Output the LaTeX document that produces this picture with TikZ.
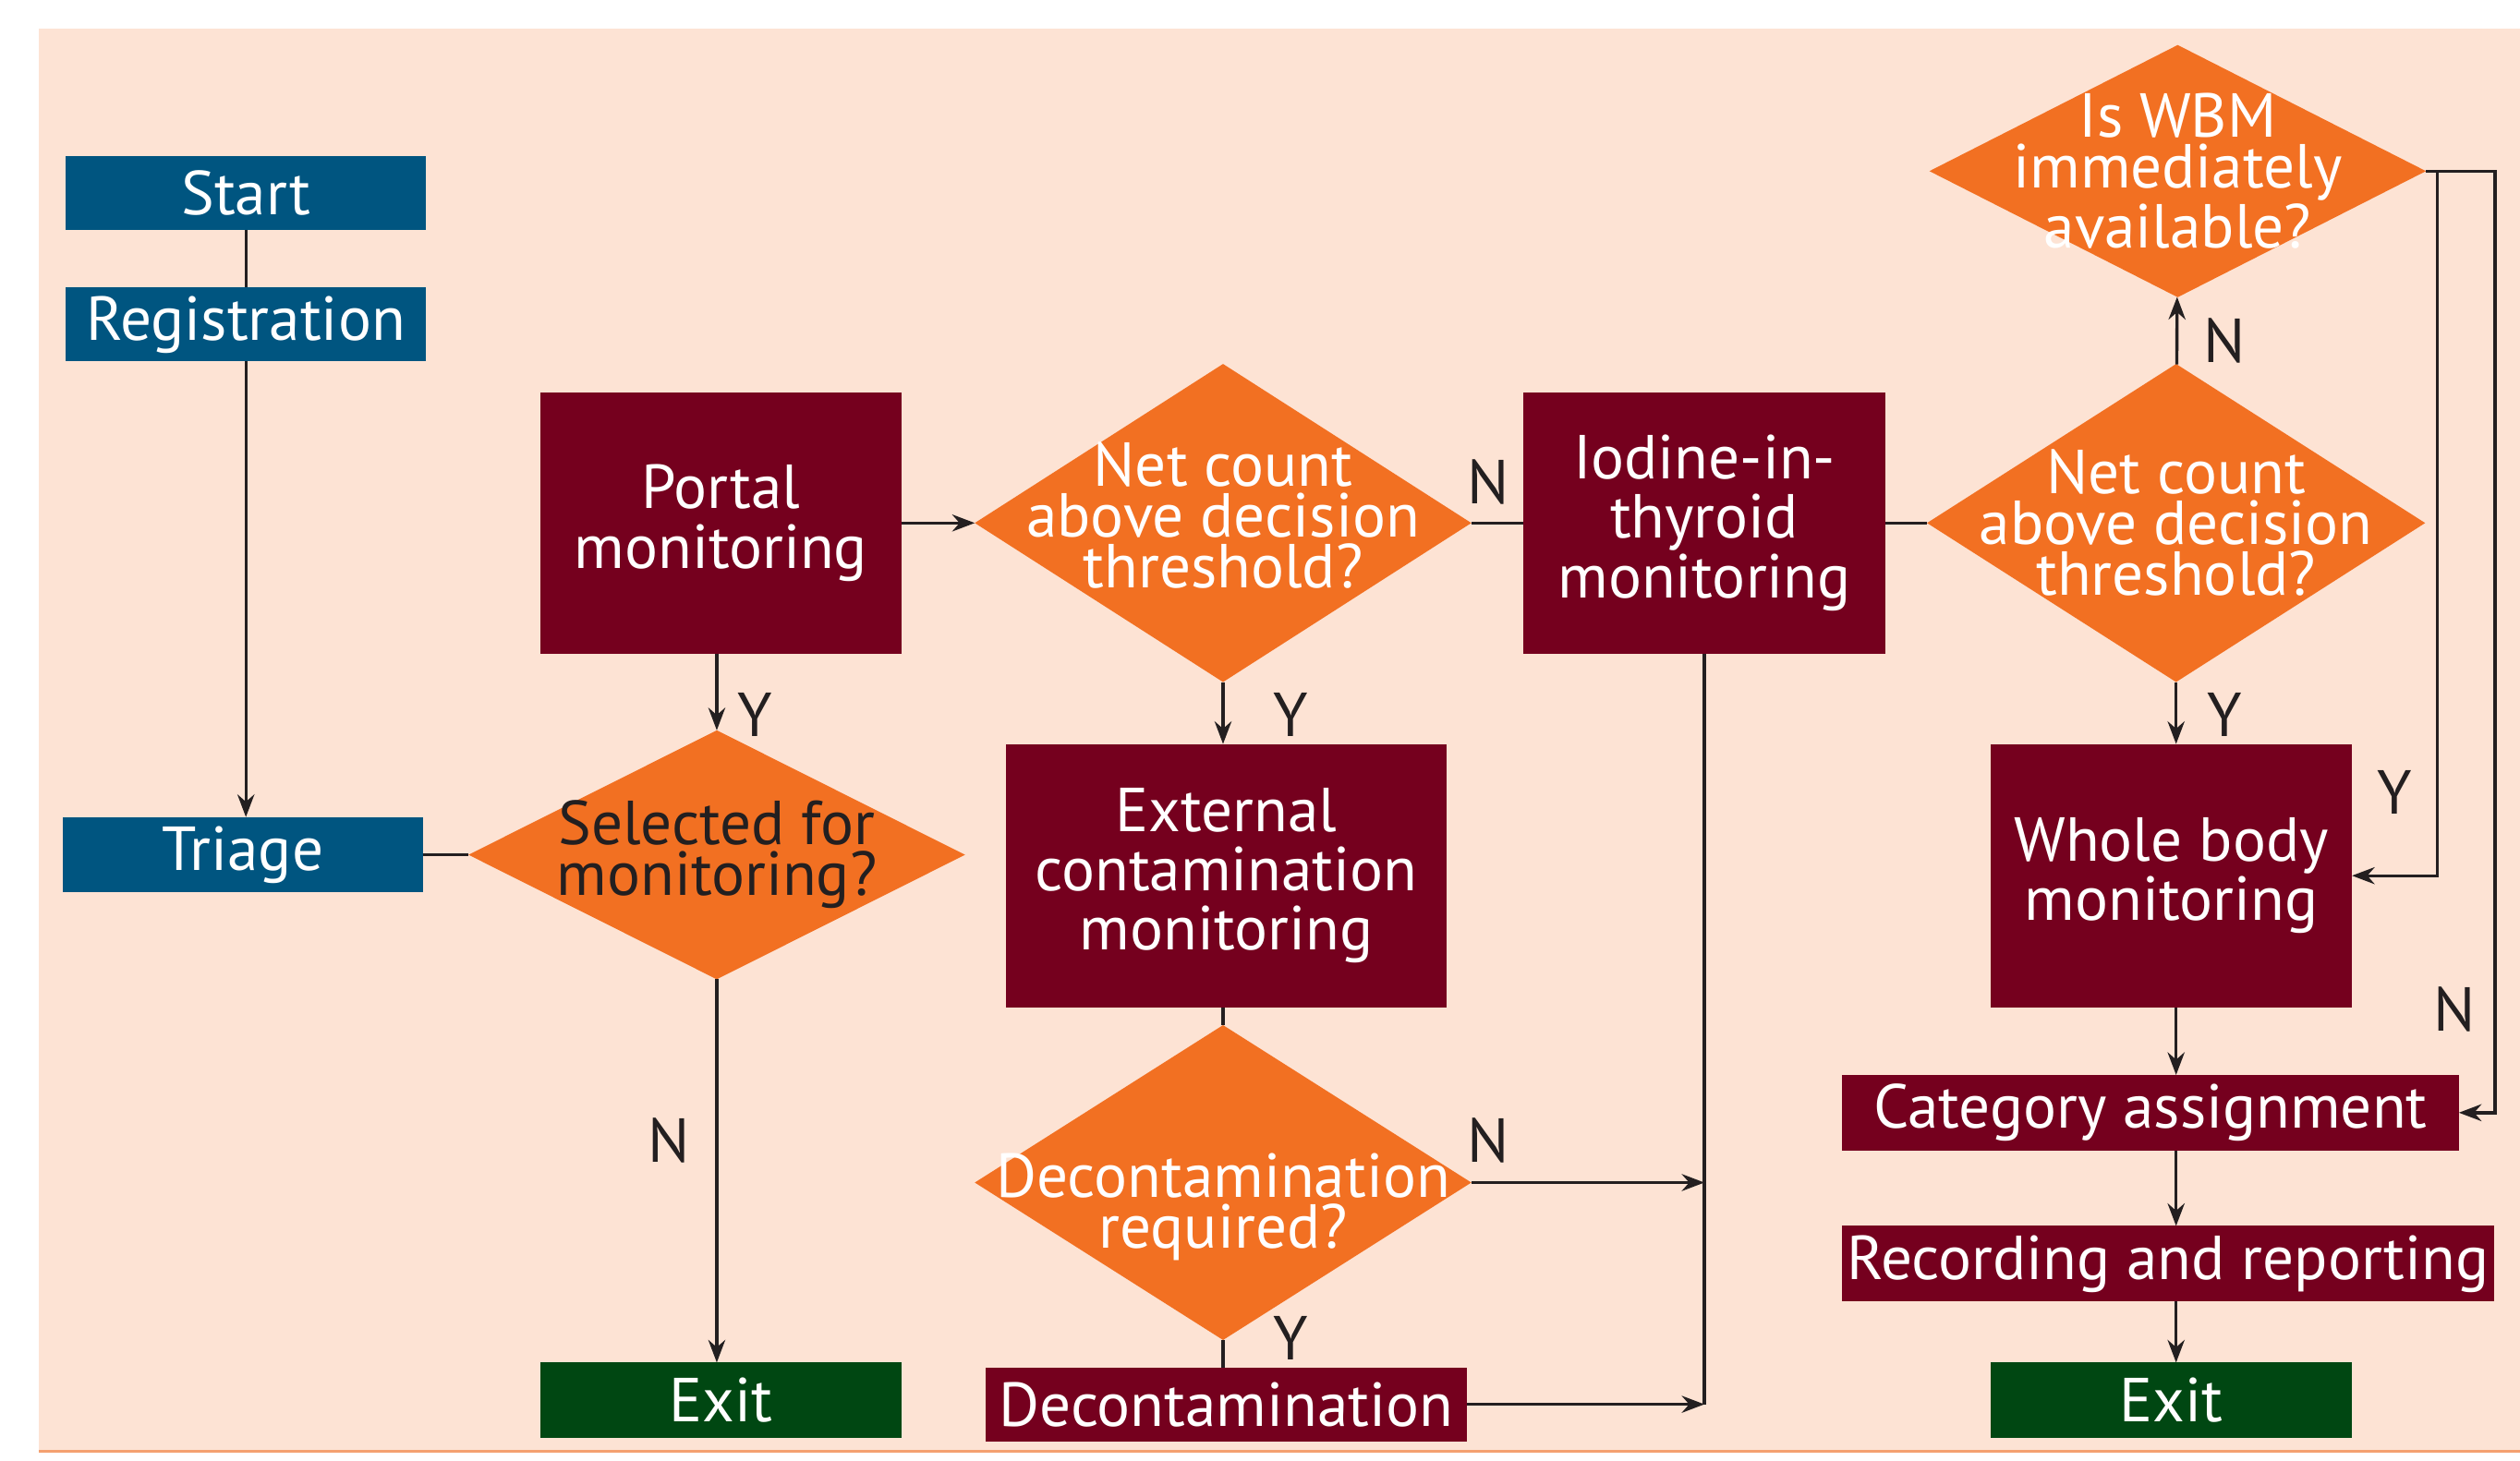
\documentclass[tikz,border=0pt]{standalone}
\usepackage{fontspec}
\setmainfont{PT Sans}
\usetikzlibrary{shapes.geometric, arrows.meta}
\definecolor{peach}{HTML}{FDE3D4}
\definecolor{regblue}{HTML}{005580}
\definecolor{maroon}{HTML}{75001E}
\definecolor{askorange}{HTML}{F27022}
\definecolor{exitgreen}{HTML}{004712}
\definecolor{rimorange}{HTML}{F4A070}
\definecolor{ink}{HTML}{231F20}
\newcommand{\flowfont}{\fontsize{22}{21}\selectfont}
\newcommand{\askfont}{\fontsize{22}{18}\selectfont}
\tikzstyle{entry} = [rectangle, fill=regblue, text=white,
font=\flowfont, inner sep=0pt, outer sep=0pt,
minimum width=4.48cm, minimum height=0.92cm]
\tikzstyle{process} = [rectangle, fill=maroon, text=white,
font=\flowfont, align=center, inner sep=0pt, outer sep=0pt,
minimum width=4.5cm, minimum height=3.26cm]
\tikzstyle{leave} = [rectangle, fill=exitgreen, text=white,
font=\flowfont, inner sep=0pt, outer sep=0pt,
minimum width=4.5cm, minimum height=0.94cm]
\tikzstyle{decision} = [diamond, fill=askorange, inner sep=0pt, outer sep=0pt,
minimum width=6.18cm, minimum height=3.96cm]
\tikzstyle{asktext} = [text=white, font=\askfont, align=center, inner sep=0pt]
\tikzstyle{yn} = [text=ink, font=\flowfont, inner sep=0pt]
\tikzstyle{link} = [draw=ink, line width=1.1pt]
\tikzstyle{arrow} = [draw=ink, line width=1.1pt, -{Stealth[length=8pt, width=6pt]}]

\begin{document}
\begin{tikzpicture}[x=0.02cm, y=-0.02cm]
\useasboundingbox (0,0) rectangle (1568,909);
\fill[peach] (24,18) rectangle (1568,903);
\draw[rimorange, line width=1pt] (24,903) -- (1568,903);

% left column
\node[entry] (start) at (153,120) {Start};
\node[entry] (reg) at (153,202) {Registration};
\node[entry, minimum height=0.94cm] (triage) at (151,532) {Triage};

% portal column
\node[process] (portal) at (448.5,325.5) {Portal\\monitoring};
\node[decision, minimum height=3.1cm,
  label={[asktext, text=ink]center:{Selected for\\monitoring?}}]
  (sel) at (446,532) {};
\node[leave] (exitl) at (448.5,871.5) {Exit};

% external contamination column
\node[decision,
  label={[asktext, yshift=0.1cm]center:{Net count\\above decision\\threshold?}}]
  (net1) at (761,325.5) {};
\node[process, minimum width=5.48cm, minimum height=3.28cm] (ext) at (763,545)
  {External\\contamination\\monitoring};
\node[decision, minimum height=3.92cm,
  label={[asktext, yshift=-0.3cm]center:{Decontamination\\required?}}]
  (decreq) at (761,736) {};
\node[process, minimum width=6cm, minimum height=0.92cm] (decon) at (763,874)
  {Decontamination};

% internal contamination column
\node[process] (iodine) at (1060.5,325.5) {Iodine-in-\\thyroid\\monitoring};
\node[decision, minimum width=6.2cm,
  label={[asktext]center:{Net count\\above decision\\threshold?}}]
  (net3) at (1354,325.5) {};
\node[decision, minimum height=3.14cm,
  label={[asktext]center:{Is WBM\\immediately\\available?}}]
  (wbmq) at (1355,106.5) {};
\node[process, minimum height=3.28cm] (wbm) at (1351,545) {Whole body\\monitoring};
\node[process, minimum width=7.68cm, minimum height=0.94cm] (cat) at (1338,692.5)
  {Category assignment};
\node[process, minimum width=8.12cm, minimum height=0.94cm] (rec) at (1349,786.5)
  {Recording and reporting};
\node[leave] (exitr) at (1351,871.5) {Exit};

% answers
\node[yn] (yportal) at (470,445) {Y};
\node[yn] (nsel) at (416,710) {N};
\node[yn] (ynet1) at (803,445) {Y};
\node[yn] (nnet1) at (926,300) {N};
\node[yn] (ndecreq) at (926,710) {N};
\node[yn] (ydecreq) at (803,833) {Y};
\node[yn] (nnet3) at (1384,212) {N};
\node[yn] (ynet3) at (1384,445) {Y};
\node[yn] (ywbmq) at (1490,493) {Y};
\node[yn] (nwbmq) at (1527,628) {N};

% connectors
\draw[link] (start) -- (reg);
\draw[arrow] (reg) -- (reg |- triage.north);
\draw[link] (triage) -- (sel);
\draw[arrow] (sel.north |- portal.south) -- (sel.north);
\draw[arrow] (sel.south) -- (sel.south |- exitl.north);
\draw[arrow] (portal) -- (net1);
\draw[link] (net1) -- (iodine);
\draw[arrow] (net1.south) -- (net1.south |- ext.north);
\draw[link] (decreq.north |- ext.south) -- (decreq.north);
\draw[link] (decreq.south) -- (decreq.south |- decon.north);
\draw[arrow] (decreq.east) -- (decreq.east -| iodine.south);
\draw[arrow] (decon.east) -- (decon.east -| iodine.south);
\draw[link] (iodine.south) -- (decon.east -| iodine.south);
\draw[link] (iodine) -- (net3);
\draw[arrow] (net3) -- (wbmq);
\draw[arrow] (net3.south) -- (net3.south |- wbm.north);
\draw[arrow] (net3.south |- wbm.south) -- (net3.south |- cat.north);
\draw[arrow] (net3.south |- cat.south) -- (net3.south |- rec.north);
\draw[arrow] (net3.south |- rec.south) -- (net3.south |- exitr.north);
\draw[arrow] (wbmq.east) -- ++(7,0) |- (wbm.east);
\draw[arrow] (wbmq.east) -- ++(43,0) |- (cat.east);
\end{tikzpicture}
\end{document}
